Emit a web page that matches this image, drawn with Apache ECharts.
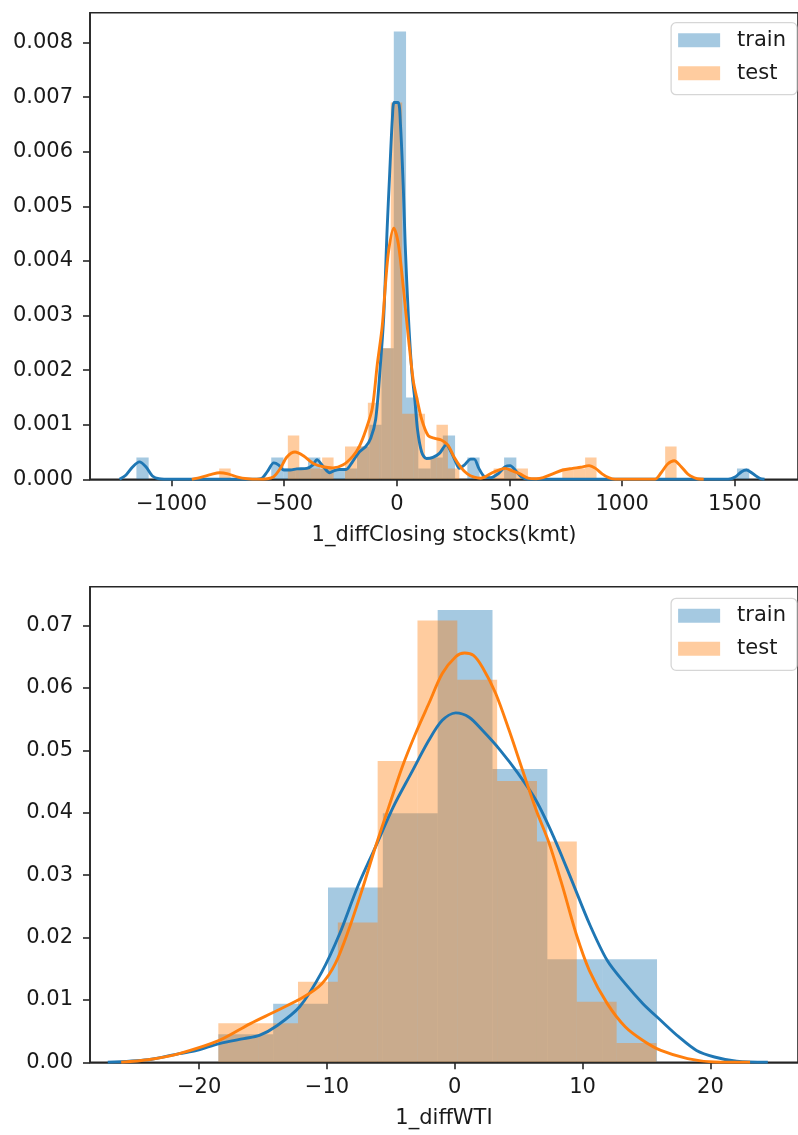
<!DOCTYPE html>
<html><head><meta charset="utf-8">
<script src="https://cdn.jsdelivr.net/npm/echarts@6/dist/echarts.min.js"></script>
<style>html,body{margin:0;padding:0;background:#fff}#c{width:798px;height:1135px}</style>
</head><body><div id="c"></div><script>
// ---------- Chart 1: 1_diffClosing stocks(kmt) ----------
const closingXTicks = [-1000, -500, 0, 500, 1000, 1500];
const closingYTicks = [0, 0.001, 0.002, 0.003, 0.004, 0.005, 0.006, 0.007, 0.008];
const closingTrainBinStart = -1156, closingTrainBinWidth = 54.4;
const closingTrainHist = [0.0004,0,0,0,0,0,0,0,0,0, 0,0.0004,0.0002,0.0002,0.0004,0.0002,0.0002,0.0002,0.0006,0.001,
  0.0024,0.0082,0.0015,0.0002,0.0004,0.0008,0,0.0004,0,0, 0.0004,0,0,0,0,0,0,0,0,0, 0,0,0,0,0,0,0,0,0,0.0002];
const closingTestBinStart = -788.4, closingTestBinWidth = 50.75;
const closingTestHist = [0.0002,0,0,0,0,0,0.0008,0.0002,0.0002,0.0004, 0,0.0006,0.0006,0.0014,0.0024,0.0069,0.0012,0.0012,0.0004,0.001,
  0.0002,0,0,0,0.0002,0.0002,0.0002,0,0,0, 0.0002,0.0002,0.0004,0,0,0,0,0,0,0.0006];
const closingTrainKde = [[-1231,0],[-1202,0.00008],[-1172,0.00023],[-1143,0.00032],[-1114,0.00023],[-1085,0.00006],[-1056,0.00001],
  [-1000,0],[-800,0],[-650,0],[-604,0.00001],[-575,0.00014],[-546,0.0003],[-524,0.00026],[-502,0.00017],[-473,0.00017],[-444,0.00019],
  [-400,0.0002],[-371,0.00027],[-355,0.00036],[-328,0.00024],[-298,0.00012],[-277,0.00016],[-255,0.00018],[-226,0.00018],[-197,0.00032],
  [-167,0.0005],[-138,0.0006],[-116,0.00075],[-94,0.0011],[-73,0.0021],[-58,0.003],[-43,0.0046],[-33,0.0055],[-20,0.0066],[-12,0.0069],
  [6,0.0069],[16,0.0065],[29,0.0053],[37,0.0043],[51,0.003],[66,0.002],[80,0.00145],[92,0.0009],[110,0.0005],[131,0.00038],[160,0.0004],
  [190,0.00048],[219,0.00063],[241,0.0005],[263,0.0003],[277,0.0002],[299,0.00026],[328,0.00037],[343,0.00037],[364,0.0002],[386,0.00006],
  [416,0.00003],[452,0.00011],[481,0.00023],[503,0.00025],[525,0.00017],[554,0.00004],[583,0],[800,0],[1200,0],[1470,0],[1501,0.00004],
  [1530,0.00014],[1552,0.00017],[1581,0.0001],[1610,0.00002],[1632,0]];
const closingTestKde = [[-910,0],[-867,0.00004],[-823,0.00009],[-787,0.00012],[-750,0.0001],[-706,0.00004],[-663,0.00001],[-620,0],
  [-575,0.00001],[-546,0.00005],[-517,0.0002],[-488,0.00041],[-452,0.0005],[-415,0.00043],[-371,0.00029],[-328,0.00023],[-284,0.00021],
  [-240,0.00026],[-196,0.00042],[-167,0.0006],[-138,0.0009],[-109,0.0013],[-87,0.0021],[-65,0.0028],[-50,0.0036],[-36,0.0042],[-14,0.0046],
  [7,0.0043],[29,0.0035],[51,0.0026],[73,0.0018],[88,0.0015],[110,0.0011],[139,0.0008],[168,0.00075],[197,0.00072],[226,0.00063],
  [255,0.0004],[284,0.00022],[313,0.0001],[343,0.00004],[372,0.00002],[394,0.00005],[423,0.00012],[452,0.00017],[481,0.0002],[510,0.00016],
  [547,0.0001],[583,0.00002],[619,0.00001],[649,0.00003],[692,0.0001],[736,0.00017],[780,0.0002],[816,0.00022],[853,0.00025],[882,0.0002],
  [911,0.0001],[940,0.00003],[969,0],[1144,0],[1173,0.00012],[1202,0.00028],[1231,0.00034],[1260,0.00024],[1290,0.0001],[1304,0.00006],
  [1333,0.00001],[1362,0]];

// ---------- Chart 2: 1_diffWTI ----------
const wtiXTicks = [-20, -10, 0, 10, 20];
const wtiYTicks = [0, 0.01, 0.02, 0.03, 0.04, 0.05, 0.06, 0.07];
const wtiTrainBinStart = -18.5, wtiTrainBinWidth = 4.29;
const wtiTrainHist = [0.0045, 0.0094, 0.028, 0.0399, 0.0725, 0.047, 0.0165, 0.0165];
const wtiTestBinStart = -18.5, wtiTestBinWidth = 3.116;
const wtiTestHist = [0.00625, 0.00625, 0.0129, 0.0224, 0.0483, 0.0708, 0.0613, 0.0451, 0.0354, 0.0097, 0.0031];
const wtiTrainKde = [[-27.15,0],[-24,0.0004],[-21.56,0.0014],[-20.17,0.0019],[-18.43,0.003],[-16.5,0.0038],[-15.29,0.0043],[-13.89,0.0059],
  [-12.14,0.0089],[-10.4,0.0145],[-9.01,0.0206],[-7.61,0.0281],[-6.21,0.0345],[-4.82,0.0409],[-3.42,0.0463],[-2.03,0.0516],[-0.98,0.0548],
  [0.07,0.056],[1.12,0.0553],[2.16,0.0532],[3.56,0.05],[4.95,0.0463],[6.35,0.042],[7.74,0.0361],[9.14,0.0292],[10.53,0.0222],[11.93,0.0163],
  [13.33,0.0126],[14.72,0.0094],[16.12,0.0067],[17.51,0.0041],[18.91,0.0019],[20.31,0.00085],[22.05,0.00016],[24.49,0]];
const wtiTestKde = [[-26.1,0],[-24,0.0004],[-21.56,0.0014],[-18.43,0.0035],[-15.99,0.0062],[-13.89,0.0083],[-11.8,0.0105],[-10.4,0.0126],
  [-9.35,0.0158],[-8.31,0.0212],[-7.26,0.0276],[-6.21,0.0345],[-5.17,0.0409],[-4.12,0.0473],[-3.07,0.0527],[-2.03,0.0575],[-0.98,0.0623],
  [0.07,0.065],[0.76,0.0656],[1.46,0.0652],[2.16,0.0633],[3.2,0.0591],[4.25,0.0532],[5.3,0.0468],[6.35,0.0405],[7.4,0.035],[8.44,0.0281],
  [9.49,0.0206],[10.53,0.0147],[11.93,0.0094],[13.33,0.0057],[14.72,0.0035],[16.12,0.0019],[18.21,0.0006],[20.31,0.00005],[23.1,0]];

// ---------- styling ----------
const BLUE = '#1f77b4', ORANGE = '#ff7f0e';
const BLUE_FILL = 'rgba(31,119,180,0.4)', ORANGE_FILL = 'rgba(255,127,14,0.4)';
const FONT = 'DejaVu Sans', INK = '#1a1a1a', SPINE = '#262626', FS = 21;

function bins(start, width, heights) {
  return heights.map((h, i) => [start + i * width, start + (i + 1) * width, h]);
}
function histSeries(name, idx, data, fill) {
  return {
    type: 'custom', name, xAxisIndex: idx, yAxisIndex: idx, data, clip: true, silent: true,
    encode: { x: [0, 1], y: 2 }, itemStyle: { color: fill },
    renderItem: (p, api) => {
      const a = api.coord([api.value(0), api.value(2)]);
      const b = api.coord([api.value(1), 0]);
      return { type: 'rect', shape: { x: a[0], y: a[1], width: b[0] - a[0], height: b[1] - a[1] }, style: { fill } };
    }
  };
}
function kdeSeries(name, idx, data, color) {
  return { type: 'line', name, xAxisIndex: idx, yAxisIndex: idx, data, showSymbol: false, smooth: 0.3, silent: true,
    lineStyle: { color, width: 2.9 }, itemStyle: { color } };
}
const minusFmt = v => (v < 0 ? '\u2212' : '') + Math.abs(v);
function xAxis(idx, min, max, ticks, name) {
  return { type: 'value', gridIndex: idx, min, max, name, nameLocation: 'middle', nameGap: 46,
    nameTextStyle: { fontFamily: FONT, fontSize: FS, color: INK },
    axisLine: { show: true, onZero: false, lineStyle: { color: SPINE, width: 1.6 } },
    axisTick: { show: true, customValues: ticks, length: 7, lineStyle: { color: SPINE, width: 1.6 } },
    axisLabel: { customValues: ticks, formatter: minusFmt, fontFamily: FONT, fontSize: FS, color: INK, margin: 15 },
    splitLine: { show: false } };
}
function yAxis(idx, max, ticks, dec) {
  return { type: 'value', gridIndex: idx, min: 0, max,
    axisLine: { show: true, onZero: false, lineStyle: { color: SPINE, width: 1.6 } },
    axisTick: { show: true, customValues: ticks, length: 7, lineStyle: { color: SPINE, width: 1.6 } },
    axisLabel: { customValues: ticks, formatter: v => v.toFixed(dec), fontFamily: FONT, fontSize: FS, color: INK, margin: 17 },
    splitLine: { show: false } };
}
function legend(top) {
  return { top, right: 1, orient: 'vertical', icon: 'rect', itemWidth: 42, itemHeight: 14, itemGap: 12,
    padding: [7, 11, 11, 7], borderColor: 'rgba(204,204,204,0.8)', borderWidth: 1.3, borderRadius: 5,
    backgroundColor: 'rgba(255,255,255,0.8)', selectedMode: false,
    textStyle: { fontFamily: FONT, fontSize: FS, color: INK, padding: [0, 0, 0, 12] },
    data: [{ name: 'train', itemStyle: { color: BLUE_FILL } }, { name: 'test', itemStyle: { color: ORANGE_FILL } }] };
}

const chart = echarts.init(document.getElementById('c'), null, { renderer: 'canvas' });
chart.setOption({
  animation: false,
  backgroundColor: '#fff',
  grid: [
    { left: 90, top: 12.7, width: 719, height: 466.6, show: true, borderColor: SPINE, borderWidth: 1.6 },
    { left: 90, top: 586.7, width: 719, height: 475.6, show: true, borderColor: SPINE, borderWidth: 1.6 }
  ],
  xAxis: [
    xAxis(0, -1362, 1780.5, closingXTicks, '1_diffClosing stocks(kmt)'),
    xAxis(1, -28.54, 26.85, wtiXTicks, '1_diffWTI')
  ],
  yAxis: [
    yAxis(0, 0.008546, closingYTicks, 3),
    yAxis(1, 0.07622, wtiYTicks, 2)
  ],
  legend: [legend(22.7), legend(598.3)],
  series: [
    histSeries('train', 0, bins(closingTrainBinStart, closingTrainBinWidth, closingTrainHist), BLUE_FILL),
    kdeSeries('train kde', 0, closingTrainKde, BLUE),
    histSeries('test', 0, bins(closingTestBinStart, closingTestBinWidth, closingTestHist), ORANGE_FILL),
    kdeSeries('test kde', 0, closingTestKde, ORANGE),
    histSeries('train', 1, bins(wtiTrainBinStart, wtiTrainBinWidth, wtiTrainHist), BLUE_FILL),
    kdeSeries('train kde', 1, wtiTrainKde, BLUE),
    histSeries('test', 1, bins(wtiTestBinStart, wtiTestBinWidth, wtiTestHist), ORANGE_FILL),
    kdeSeries('test kde', 1, wtiTestKde, ORANGE)
  ]
});
</script></body></html>
